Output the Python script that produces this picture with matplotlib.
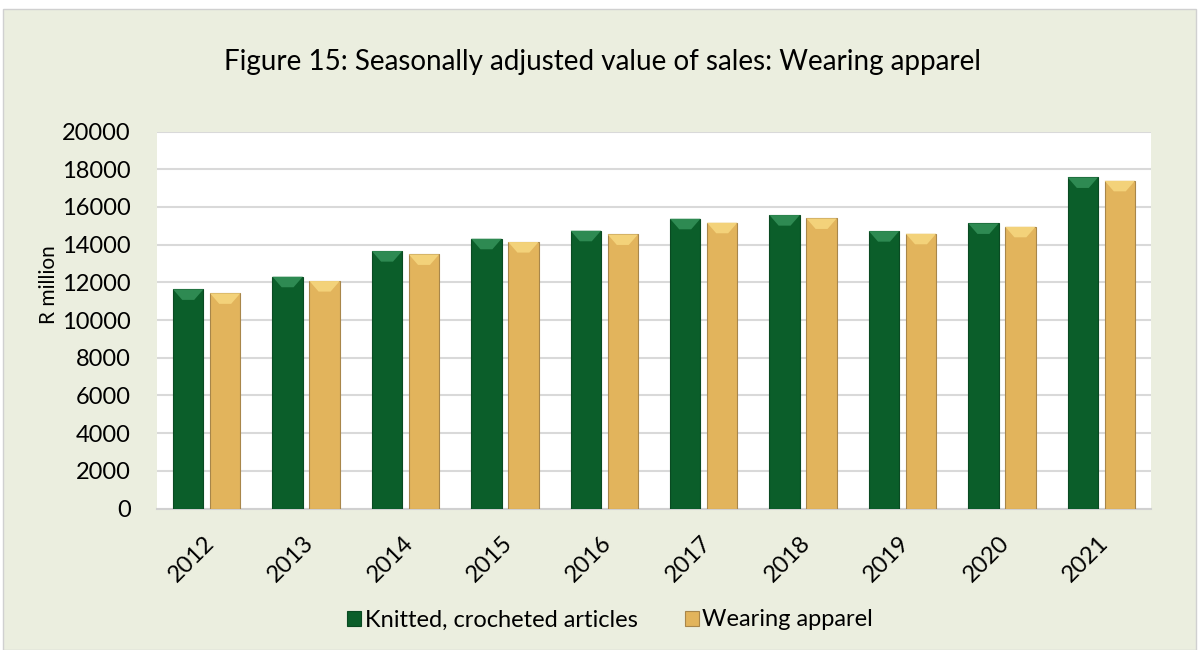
import numpy as np
import matplotlib as mpl
import matplotlib.pyplot as plt
from matplotlib.patches import Polygon

mpl.use('Agg')

years = ['2012', '2013', '2014', '2015', '2016', '2017', '2018', '2019', '2020', '2021']
knitted = [11630, 12300, 13660, 14315, 14740, 15375, 15570, 14720, 15130, 17570]
apparel = [11420, 12070, 13485, 14140, 14545, 15165, 15395, 14580, 14950, 17390]

plt.rcParams['font.family'] = ['Lato', 'DejaVu Sans']

bg = '#EBEEDF'
green = '#0B5E2A'
gold = '#E2B45C'

fig = plt.figure(figsize=(11.99, 6.5), dpi=100)
fig.patch.set_facecolor('white')
# chart area frame
fig.add_artist(plt.Rectangle((3 / 1199, 0), 1 - 6 / 1199, 1 - 9 / 650, transform=fig.transFigure,
                             facecolor=bg, edgecolor='#D0D0D0', lw=1, zorder=-10))

ax = fig.add_axes([157 / 1199, 1 - 508.5 / 650, (1151 - 157) / 1199, (508.5 - 131.6) / 650])
ax.set_facecolor('white')

x = np.arange(len(years))
w = 0.305
off = 0.186


def bevel(ax, xc, h, light):
    # light chevron at the top of each bar, like the Excel bevel
    tri = Polygon([[xc - w / 2, h], [xc + w / 2, h], [xc + 0.06, h - 560], [xc - 0.06, h - 560]],
                  closed=True, facecolor=light, edgecolor='none', zorder=4)
    ax.add_patch(tri)


b1 = ax.bar(x - off, knitted, w, color=green, edgecolor='#0A4A22', lw=0.8, zorder=3,
            label='Knitted, crocheted articles')
b2 = ax.bar(x + off, apparel, w, color=gold, edgecolor='#A8864A', lw=0.8, zorder=3,
            label='Wearing apparel')
for xi, v in zip(x - off, knitted):
    bevel(ax, xi, v, '#2E8A52')
for xi, v in zip(x + off, apparel):
    bevel(ax, xi, v, '#F3D27A')

ax.set_xlim(-0.5, len(years) - 0.5)
ax.set_ylim(0, 20000)
ax.set_yticks(np.arange(0, 20001, 2000))
ax.grid(axis='y', color='#D9D9D9', lw=1.5, zorder=0)
for s in ['top', 'right', 'left']:
    ax.spines[s].set_visible(False)
ax.spines['bottom'].set_color('#D0D0D0')
ax.spines['bottom'].set_linewidth(1.5)
ax.tick_params(axis='y', length=0, labelsize=17, pad=19)
ax.tick_params(axis='x', length=0, labelsize=17, pad=10)
ax.set_xticks(x)
ax.set_xticklabels(years, rotation=45, ha='right', va='center', rotation_mode='anchor')
for lab in ax.get_xticklabels():
    lab.set_transform(lab.get_transform() + mpl.transforms.ScaledTranslation(0.04, -0.17, fig.dpi_scale_trans))

fig.text(49 / 1199, 1 - 285 / 650, 'R million', rotation=90, fontsize=15, ha='center', va='center')

fig.text(602 / 1199, 1 - 62 / 650, 'Figure 15: Seasonally adjusted value of sales: Wearing apparel',
         fontsize=20, ha='center', va='center')

fig.legend(handles=[b1, b2], loc='center', bbox_to_anchor=(610 / 1199, 1 - 620 / 650), ncol=2,
           frameon=False, fontsize=17, handlelength=0.6, handleheight=0.6, handletextpad=0.15,
           columnspacing=2.0)

plt.savefig('out.png', dpi=100, facecolor=fig.get_facecolor())
